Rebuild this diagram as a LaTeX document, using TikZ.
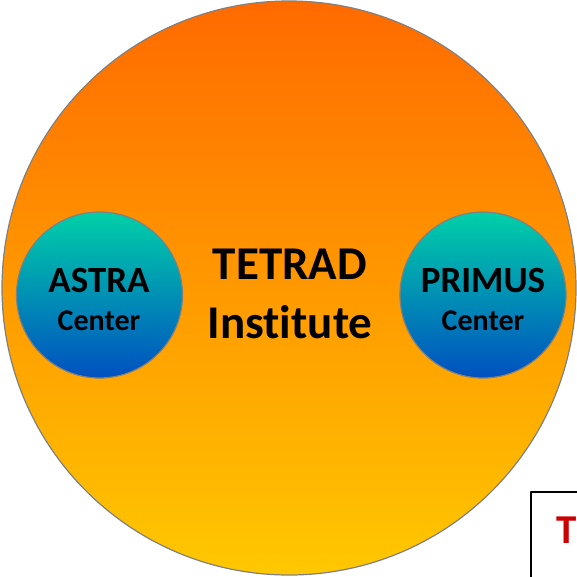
\documentclass[tikz,border=0pt]{standalone}
\usepackage{fontspec}
\setmainfont[Ligatures=NoCommon]{Carlito}
\tikzset{
  bigdisc/.style={circle,draw=gray,line width=1.2pt,top color=orange1,bottom color=orange2,inner sep=0pt},
  smalldisc/.style={circle,draw=gray,line width=1.2pt,top color=teal1,bottom color=blue1,inner sep=0pt,minimum size=166pt},
}
\definecolor{orange1}{HTML}{FF6A00}
\definecolor{orange2}{HTML}{FFC800}
\definecolor{teal1}{HTML}{00D0A8}
\definecolor{blue1}{HTML}{0050C0}
\definecolor{red1}{HTML}{CC0000}
\begin{document}
\begin{tikzpicture}[x=1pt,y=-1pt,line join=round,line cap=round]
    \clip (0,0) rectangle (577,576);
    \node[bigdisc,minimum size=574pt] (institute) at (289,288) {};
    \node[smalldisc] (astra) at (99.5,295) {};
    \node[smalldisc] (primus) at (483,295) {};
    \node[font=\bfseries\fontsize{47}{59}\selectfont,align=center] (institutelabel) at (290,294) {TETRAD\\Institute};
    \node[font=\bfseries\fontsize{37}{39}\selectfont] (astratitle) at (99,280) {ASTRA};
    \node[font=\bfseries\fontsize{30}{30}\selectfont] (astrasub) at (99,321) {Center};
    \node[font=\bfseries\fontsize{37}{39}\selectfont] (primustitle) at (483,280) {PRIMUS};
    \node[font=\bfseries\fontsize{30}{30}\selectfont] (primussub) at (483,321) {Center};
    \draw[line width=2pt] (531,640) -- (531,492) -- (640,492);
    \node[font=\bfseries\fontsize{41}{41}\selectfont,text=red1,anchor=base west,inner sep=0pt] (legend) at (556,543) {T};
  \end{tikzpicture}
\end{document}
